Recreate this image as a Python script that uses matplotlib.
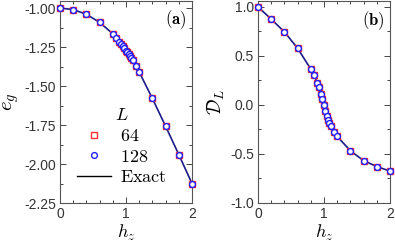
import matplotlib
matplotlib.use("Agg")
import matplotlib.pyplot as plt
from matplotlib.ticker import MultipleLocator
from matplotlib.lines import Line2D

plt.rcParams['mathtext.fontset'] = 'cm'
plt.rcParams['font.family'] = ['Liberation Sans', 'DejaVu Sans']

hz = [0.0, 0.2, 0.4, 0.6, 0.8, 0.85, 0.9, 0.92, 0.95, 0.97, 1.0, 1.02,
      1.04, 1.06, 1.08, 1.1, 1.15, 1.2, 1.4, 1.6, 1.8, 2.0]
eg_64 = [-1.0, -1.01, -1.04, -1.092, -1.165, -1.19, -1.215, -1.228, -1.245,
         -1.257, -1.273, -1.285, -1.297, -1.31, -1.322, -1.335, -1.37, -1.41,
         -1.58, -1.758, -1.94, -2.125]
eg_128 = list(eg_64)
eg_exact = list(eg_64)
D_64 = [1.0, 0.875, 0.745, 0.578, 0.365, 0.31, 0.22, 0.18, 0.11, 0.06, 0.0,
        -0.06, -0.11, -0.15, -0.18, -0.215, -0.28, -0.32, -0.468, -0.568,
        -0.628, -0.675]
D_128 = list(D_64)
D_exact = list(D_64)

xticks = [0, 1, 2]
yticks_a = [-1.00, -1.25, -1.50, -1.75, -2.00, -2.25]
yticks_b = [1.0, 0.5, 0.0, -0.5, -1.0]

fig = plt.figure(figsize=(3.95, 2.49), dpi=100)
axa = fig.add_axes([60/395, 46/249, 132/395, 202/249])
axb = fig.add_axes([258/395, 46/249, 132/395, 202/249])

line_col = '#1a1a8a'
sq_style = dict(marker='s', ms=4.6, mfc='none', mec='#ff3030', mew=1.0)
ci_style = dict(marker='o', ms=4.2, mfc='white', mec='#1f1fff', mew=1.0)
for ax, y64, y128, yex in [(axa, eg_64, eg_128, eg_exact), (axb, D_64, D_128, D_exact)]:
    ax.plot(hz, yex, color=line_col, lw=1.2, zorder=2)
    ax.plot(hz, y64, ls='none', zorder=3, clip_on=False, **sq_style)
    ax.plot(hz, y128, ls='none', zorder=4, clip_on=False, **ci_style)
    ax.set_xlim(0, 2)
    ax.xaxis.set_major_locator(MultipleLocator(1))
    ax.xaxis.set_minor_locator(MultipleLocator(0.2))
    ax.tick_params(which='both', direction='in', top=True, right=True, colors='#444444',
                   labelcolor='#333333', labelsize=10, width=0.7)
    ax.tick_params(which='major', length=4, pad=3)
    ax.tick_params(which='minor', length=2)
    for s in ax.spines.values():
        s.set_color('#555555')
        s.set_linewidth(0.8)
    ax.set_xticks(xticks)
    ax.set_xticklabels([str(t) for t in xticks])
    ax.set_xlabel(r'$h_z$', fontsize=13, labelpad=1)

axa.set_ylim(-2.25, -0.955)
axa.set_yticks(yticks_a)
axa.set_yticklabels(['%.2f' % t for t in yticks_a])
axa.yaxis.set_minor_locator(MultipleLocator(0.125))
axa.set_ylabel(r'$e_g$', fontsize=15, labelpad=2)

axb.set_ylim(-1.0, 1.06)
axb.set_yticks(yticks_b)
axb.set_yticklabels(['%.1f' % t for t in yticks_b])
axb.yaxis.set_minor_locator(MultipleLocator(0.25))
axb.set_ylabel(r'$\mathcal{D}_L$', fontsize=14, labelpad=2)

axa.text(0.96, 0.965, r'$\mathbf{(a)}$', transform=axa.transAxes, ha='right', va='top', fontsize=12)
axb.text(0.96, 0.96, r'$\mathbf{(b)}$', transform=axb.transAxes, ha='right', va='top', fontsize=12)

handles = [Line2D([], [], ls='none', **sq_style),
           Line2D([], [], ls='none', **ci_style),
           Line2D([], [], color='black', lw=1.0)]
labels = [r'$\mathrm{64}$', r'$\mathrm{128}$', r'$\mathrm{Exact}$']
leg = axa.legend(handles, labels, title=r'$L$', loc='lower left', bbox_to_anchor=(0.03, 0.02),
                 frameon=False, fontsize=13, title_fontsize=13, handlelength=1.9,
                 handletextpad=0.5, labelspacing=0.2, borderpad=0.2)
leg._legend_box.align = 'center'

fig.savefig('out.png', dpi=100)
